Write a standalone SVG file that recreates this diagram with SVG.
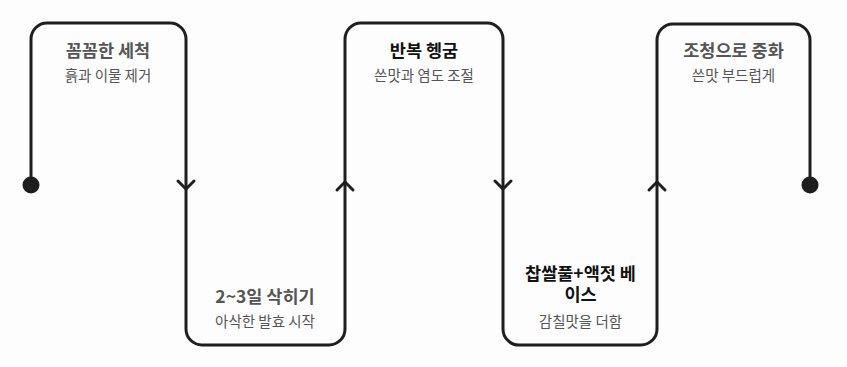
<svg xmlns="http://www.w3.org/2000/svg" width="847" height="367" viewBox="0 0 847 367">
<style>
.ln{fill:none;stroke:#1e1e1e;stroke-width:3;stroke-linecap:round;stroke-linejoin:round}
.dot{fill:#1e1e1e}
.t{font-family:"Noto Sans CJK KR","Noto Sans",sans-serif;font-weight:700;font-size:17.5px;text-anchor:middle}
.g{fill:#555}
.k{fill:#111}
.s{font-family:"Noto Sans CJK KR","Noto Sans",sans-serif;font-size:14.5px;fill:#555;text-anchor:middle}
</style>
<rect width="847" height="367" fill="#fdfdfd"/>
<g id="connectors">
<path class="ln" d="M31,185 V39 A16,16 0 0 1 47,23 H170 A16,16 0 0 1 186,39 V329 A16,16 0 0 0 202,345 H329 A16,16 0 0 0 345,329 V39 A16,16 0 0 1 361,23 H487 A16,16 0 0 1 503,39 V329 A16,16 0 0 0 519,345 H641 A16,16 0 0 0 657,329 V40 A16,16 0 0 1 673,24 H794 A16,16 0 0 1 810,40 V185"/>
<path class="ln" d="M178,181 L186,189 L194,181"/>
<path class="ln" d="M337,190 L345,182 L353,190"/>
<path class="ln" d="M495,181 L503,189 L511,181"/>
<path class="ln" d="M649,190 L657,182 L665,190"/>
<circle class="dot" cx="31" cy="185" r="8.5"/>
<circle class="dot" cx="810" cy="185" r="8.5"/>
</g>
<g id="node1">
<text class="t g" x="108" y="56.5">꼼꼼한 세척</text>
<text class="s" x="108" y="80.5">흙과 이물 제거</text>
</g>
<g id="node2">
<text class="t g" x="265" y="302.5">2~3일 삭히기</text>
<text class="s" x="265" y="326.5">아삭한 발효 시작</text>
</g>
<g id="node3">
<text class="t k" x="424" y="56.5">반복 헹굼</text>
<text class="s" x="424" y="80.5">쓴맛과 염도 조절</text>
</g>
<g id="node4">
<text class="t k"><tspan x="580.5" y="280">찹쌀풀+액젓 베</tspan><tspan x="580.5" y="301">이스</tspan></text>
<text class="s" x="580.5" y="326.5">감칠맛을 더함</text>
</g>
<g id="node5">
<text class="t g" x="733.5" y="56.5">조청으로 중화</text>
<text class="s" x="733.5" y="80.5">쓴맛 부드럽게</text>
</g>
</svg>
